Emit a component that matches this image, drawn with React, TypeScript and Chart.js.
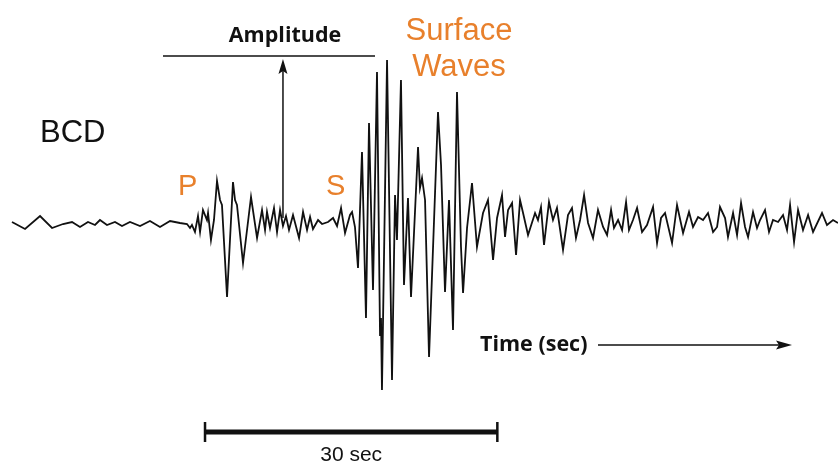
import React, { useEffect, useRef } from "react";
import { Chart, registerables } from "chart.js";

Chart.register(...registerables);

// Seismogram trace: time (s) and ground-motion amplitude (arbitrary units)
const preEventTime = [1.23, 2.57, 4.11, 5.34, 6.47, 7.39, 8.21, 9.03, 9.75, 10.26, 10.98, 11.8, 12.52, 13.34, 14.37, 15.39, 16.42, 17.45, 18.47, 19.19];
const preEventAmp = [0, -7, 6, -6, -2, 0, -5, 0, -3, 2, -3, 0, -4, 0, -4, 1, -5, 1, -1, -2];

const bodyWaveTime = [19.5, 19.7, 20.01, 20.32, 20.53, 20.83, 21.24, 21.35, 21.65, 21.96, 22.27, 22.58, 22.78, 23.3, 23.91, 24.12, 24.32, 24.94, 25.76, 26.38, 26.89, 27.2, 27.4, 27.71, 28.12, 28.43, 28.74, 29.04, 29.35, 29.66, 30.07, 30.69, 31.1, 31.51, 31.82, 32.12, 32.64, 33.05, 33.66, 34.18, 34.59, 35.0, 35.41, 35.92, 36.13, 36.43];
const bodyWaveAmp = [-6, -3, -10, 6, -10, 12, 2, 9, -18, 2, 41, 22, 17, -75, 40, 22, 17, -41, 25, -16, 12, -8, 10, -6, 14, -10, 12, -4, 6, -8, 7, -16, 10, -8, 5, -7, 2, -2, 0, 4, -4, 14, -11, 7, 10, -5];

const surfaceWaveTime = [36.74, 37.15, 37.56, 37.87, 38.28, 38.69, 39.0, 39.1, 39.2, 39.72, 40.23, 40.54, 40.74, 41.15, 41.46, 41.87, 42.18, 42.9, 43.1, 43.31, 43.62, 44.03, 44.95, 45.26, 45.67, 46.08, 46.49, 46.9, 47.31, 47.52, 47.93, 48.44, 48.95, 49.57, 50.08, 50.6, 51.01];
const surfaceWaveAmp = [-46, 70, -96, 99, -68, 150, -113, -96, -168, 162, -158, 27, -18, 142, -63, 24, -75, 75, 34, 44, 22, -135, 110, 57, -70, 22, -108, 130, -25, -71, -6, 39, -25, 9, 22, -38, 4];

const codaTime = [51.52, 51.83, 52.14, 52.55, 52.96, 53.37, 53.68, 54.19, 54.91, 55.21, 55.52, 55.83, 56.34, 56.75, 57.16, 57.78, 58.29, 58.7, 59.11, 59.53, 59.94, 60.35, 60.86, 61.37, 61.89, 62.3, 62.71, 63.01, 63.43, 63.84, 64.25, 64.55, 64.96, 65.38, 65.89, 66.4, 67.02, 67.43, 67.84, 68.25, 68.97, 69.48, 70.1, 70.71, 71.12, 71.64, 72.15, 72.66, 73.18, 73.59, 73.89, 74.41, 74.71, 75.23, 75.64, 76.05, 76.46, 76.77, 77.28, 77.69, 78.0, 78.51, 78.92, 79.33, 79.85, 80.36, 80.77, 81.08, 81.49, 81.9, 82.41, 82.93, 83.44, 84.36, 84.87, 85.49, 86.0];
const codaAmp = [27, -15, 12, 19, -33, 22, 9, -13, 9, 2, 15, -23, 20, 2, 14, -28, 7, 14, -16, 2, 27, -1, -16, 12, -5, -13, 12, -6, 2, -8, 20, -8, 2, 14, -10, -3, 15, -21, 4, 9, -21, 17, -11, 10, -5, 5, 2, 9, -10, -5, 15, 4, -15, 9, -13, 19, -5, -15, 10, -6, 2, 12, -10, 2, 0, 7, -8, 17, -20, 12, -8, 7, -10, 9, -3, 2, -1];

// Annotation values (in data units)
const amplitudeArrowTime = 29.04;
const amplitudeArrowBase = 4;
const amplitudeLevel = 166;
const scaleBarStart = 21.04;
const scaleBarSeconds = 30;

const ORANGE = "#E8802C";

const annotations = {
  id: "seismoAnnotations",
  afterDatasetsDraw(chart: any) {
    const { ctx } = chart;
    const x = chart.scales.x;
    const y = chart.scales.y;
    ctx.save();
    ctx.textBaseline = "alphabetic";

    // Station label
    ctx.fillStyle = "#111";
    ctx.font = '31px "Liberation Sans", Arial, sans-serif';
    ctx.textAlign = "left";
    ctx.fillText("BCD", 40, 142);

    // Phase labels
    ctx.fillStyle = ORANGE;
    ctx.font = '29px "Liberation Sans", Arial, sans-serif';
    ctx.fillText("P", 178, 195);
    ctx.fillText("S", 326, 195);
    ctx.font = '31px "Liberation Sans", Arial, sans-serif';
    ctx.textAlign = "center";
    ctx.fillText("Surface", 459, 40);
    ctx.fillText("Waves", 459, 76);

    // Amplitude level line + arrow
    const ax = x.getPixelForValue(amplitudeArrowTime);
    const yTop = y.getPixelForValue(amplitudeLevel);
    const yBase = y.getPixelForValue(amplitudeArrowBase);
    ctx.strokeStyle = "#111";
    ctx.fillStyle = "#111";
    ctx.lineWidth = 1.5;
    ctx.beginPath();
    ctx.moveTo(163, yTop);
    ctx.lineTo(375, yTop);
    ctx.stroke();
    ctx.beginPath();
    ctx.moveTo(ax, yBase);
    ctx.lineTo(ax, yTop + 12);
    ctx.stroke();
    ctx.beginPath();
    ctx.moveTo(ax, yTop + 3);
    ctx.lineTo(ax - 4.5, yTop + 18);
    ctx.lineTo(ax, yTop + 15);
    ctx.lineTo(ax + 4.5, yTop + 18);
    ctx.closePath();
    ctx.fill();

    ctx.font = 'bold 21.5px "Open Sans", "DejaVu Sans", sans-serif';
    ctx.textAlign = "center";
    ctx.fillText("Amplitude", 285, 42);

    // Time arrow
    ctx.textAlign = "left";
    ctx.fillText("Time (sec)", 480, 351);
    ctx.beginPath();
    ctx.moveTo(598, 345);
    ctx.lineTo(780, 345);
    ctx.stroke();
    ctx.beginPath();
    ctx.moveTo(792, 345);
    ctx.lineTo(776, 340.5);
    ctx.lineTo(779, 345);
    ctx.lineTo(776, 349.5);
    ctx.closePath();
    ctx.fill();

    // 30 s scale bar
    const sx0 = x.getPixelForValue(scaleBarStart);
    const sx1 = x.getPixelForValue(scaleBarStart + scaleBarSeconds);
    ctx.lineWidth = 5;
    ctx.beginPath();
    ctx.moveTo(sx0, 432);
    ctx.lineTo(sx1, 432);
    ctx.stroke();
    ctx.lineWidth = 2.5;
    ctx.beginPath();
    ctx.moveTo(sx0, 422);
    ctx.lineTo(sx0, 442);
    ctx.moveTo(sx1, 422);
    ctx.lineTo(sx1, 442);
    ctx.stroke();
    ctx.font = '21px "Liberation Sans", Arial, sans-serif';
    ctx.textAlign = "center";
    ctx.fillText(`${scaleBarSeconds} sec`, (sx0 + sx1) / 2, 461);

    ctx.restore();
  },
};

export default function App() {
  const ref = useRef<HTMLCanvasElement | null>(null);

  useEffect(() => {
    document.body.style.margin = "0";
    const times = [...preEventTime, ...bodyWaveTime, ...surfaceWaveTime, ...codaTime];
    const amps = [...preEventAmp, ...bodyWaveAmp, ...surfaceWaveAmp, ...codaAmp];
    const points = times.map((t, i) => ({ x: t, y: amps[i] }));
    const chart = new Chart(ref.current as HTMLCanvasElement, {
      type: "line",
      data: {
        datasets: [
          {
            data: points,
            borderColor: "#111",
            borderWidth: 1.8,
            pointRadius: 0,
            tension: 0,
            fill: false,
          },
        ],
      },
      options: {
        responsive: false,
        animation: false,
        layout: { padding: 0 },
        plugins: { legend: { display: false }, tooltip: { enabled: false } },
        scales: {
          x: { type: "linear", min: 0, max: 86, display: false },
          y: { type: "linear", min: -243, max: 222, display: false },
        },
      },
      plugins: [annotations],
    });
    return () => chart.destroy();
  }, []);

  return <canvas ref={ref} width={838} height={465} style={{ display: "block" }} />;
}
